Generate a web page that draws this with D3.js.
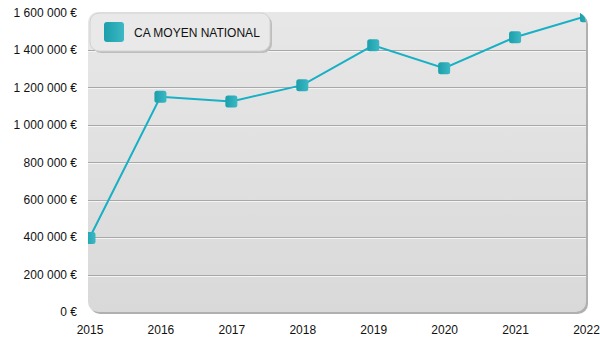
<!DOCTYPE html>
<html>
<head>
<meta charset="utf-8">
<script src="https://cdn.jsdelivr.net/npm/d3@7"></script>
<style>
  html, body { margin: 0; padding: 0; background: #ffffff; }
  svg { display: block; font-family: "Liberation Sans", Arial, sans-serif; }
</style>
</head>
<body>
<svg id="chart" width="600" height="350"></svg>
<script>
// Average national turnover per year
const years = ["2015", "2016", "2017", "2018", "2019", "2020", "2021", "2022"];
const caMoyen = [395000, 1150000, 1125000, 1212000, 1425000, 1302000, 1468000, 1580000];
const yTicks = [0, 200000, 400000, 600000, 800000, 1000000, 1200000, 1400000, 1600000];
const seriesName = "CA MOYEN NATIONAL";

const svg = d3.select("#chart");
const plot = { left: 88, right: 586, top: 12, bottom: 312 };

const x = d3.scalePoint().domain(years).range([plot.left + 1.5, plot.right]);
const y = d3.scaleLinear().domain([0, 1600000]).range([plot.bottom, plot.top + 0.5]);

const fmt = v => d3.format(",")(v).replace(/,/g, "\u00a0") + " \u20ac";

const defs = svg.append("defs");
const bg = defs.append("linearGradient").attr("id", "bgGrad")
  .attr("x1", 0).attr("y1", 0).attr("x2", 0).attr("y2", 1);
bg.append("stop").attr("offset", "0%").attr("stop-color", "#e7e7e7");
bg.append("stop").attr("offset", "100%").attr("stop-color", "#d9d9d9");

const mk = defs.append("linearGradient").attr("id", "mkGrad")
  .attr("x1", 0).attr("y1", 0).attr("x2", 1).attr("y2", 0);
mk.append("stop").attr("offset", "0%").attr("stop-color", "#1a9fab");
mk.append("stop").attr("offset", "100%").attr("stop-color", "#3cb8c4");

defs.append("clipPath").attr("id", "plotClip")
  .append("rect")
  .attr("x", plot.left).attr("y", plot.top)
  .attr("width", plot.right - plot.left).attr("height", plot.bottom - plot.top)
  .attr("rx", 10);

// plot panel shadow and body
svg.append("rect")
  .attr("x", plot.left + 2).attr("y", plot.top + 2)
  .attr("width", plot.right - plot.left).attr("height", plot.bottom - plot.top)
  .attr("rx", 10).attr("fill", "#b0b0b0");
svg.append("rect")
  .attr("x", plot.left).attr("y", plot.top)
  .attr("width", plot.right - plot.left).attr("height", plot.bottom - plot.top)
  .attr("rx", 10).attr("fill", "url(#bgGrad)");

// horizontal grid
const grid = svg.append("g").attr("clip-path", "url(#plotClip)");
yTicks.slice(1, -1).forEach(t => {
  const yy = Math.round(y(t)) + 0.5;
  grid.append("line").attr("x1", plot.left).attr("x2", plot.right)
    .attr("y1", yy + 1).attr("y2", yy + 1).attr("stroke", "#f4f4f4");
  grid.append("line").attr("x1", plot.left).attr("x2", plot.right)
    .attr("y1", yy).attr("y2", yy).attr("stroke", "#a8a8a8");
});

// y axis labels
const yAxis = svg.append("g").attr("transform", `translate(${plot.left - 11},0)`)
  .call(d3.axisLeft(y).tickValues(yTicks).tickFormat(fmt).tickSize(0).tickPadding(0));
yAxis.select(".domain").remove();
yAxis.selectAll("text").attr("font-size", 12).attr("fill", "#111")
  .attr("font-family", "'Liberation Sans', Arial, sans-serif");

// x axis labels
const xAxis = svg.append("g").attr("transform", `translate(0,${plot.bottom + 13})`)
  .call(d3.axisBottom(x).tickSize(0).tickPadding(0));
xAxis.select(".domain").remove();
xAxis.selectAll("text").attr("font-size", 12).attr("fill", "#111")
  .attr("font-family", "'Liberation Sans', Arial, sans-serif");

// series line and markers
const series = svg.append("g").attr("clip-path", "url(#plotClip)");
series.append("path")
  .datum(caMoyen)
  .attr("fill", "none").attr("stroke", "#18b0c4").attr("stroke-width", 2)
  .attr("d", d3.line().x((d, i) => x(years[i])).y(d => y(d)));
series.selectAll("rect.mk").data(caMoyen).join("rect")
  .attr("class", "mk")
  .attr("x", (d, i) => x(years[i]) - 6).attr("y", d => y(d) - 6)
  .attr("width", 12).attr("height", 12).attr("rx", 2.5)
  .attr("fill", "url(#mkGrad)");

// legend
const lg = svg.append("g");
lg.append("rect").attr("x", 92).attr("y", 15).attr("width", 180).attr("height", 38)
  .attr("rx", 9).attr("fill", "#bdbdbd");
lg.append("rect").attr("x", 90).attr("y", 13).attr("width", 180).attr("height", 38)
  .attr("rx", 9).attr("fill", "#e9e9e9").attr("stroke", "#d2d2d2");
lg.append("rect").attr("x", 104).attr("y", 22).attr("width", 20).attr("height", 20)
  .attr("rx", 3).attr("fill", "url(#mkGrad)");
lg.append("text").attr("x", 134).attr("y", 36.5)
  .attr("font-size", 12).attr("fill", "#111").text(seriesName);
</script>
</body>
</html>
